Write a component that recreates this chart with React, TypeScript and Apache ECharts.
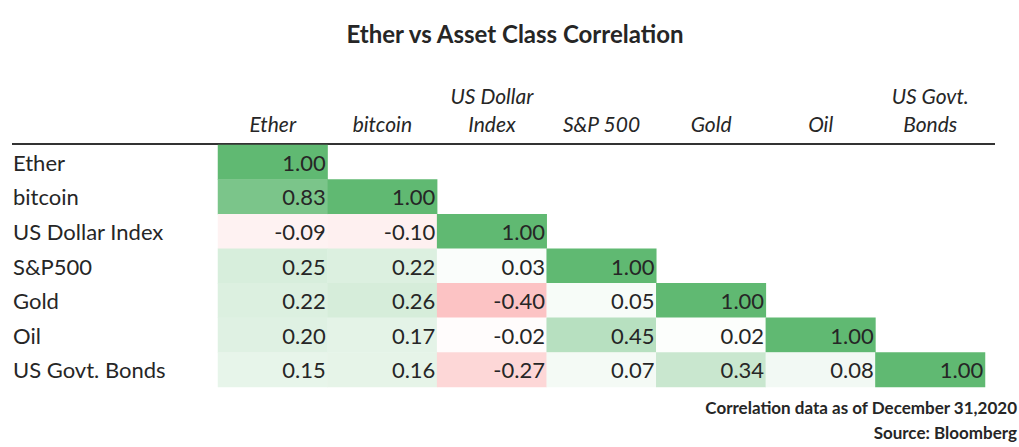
import React, { useEffect, useRef } from "react";
import * as echarts from "echarts";

const columns = ["Ether", "bitcoin", "US Dollar\nIndex", "S&P 500", "Gold", "Oil", "US Govt.\nBonds"];
const rows = ["Ether", "bitcoin", "US Dollar Index", "S&P500", "Gold", "Oil", "US Govt. Bonds"];

const rowEther = [1.0];
const rowBitcoin = [0.83, 1.0];
const rowDollar = [-0.09, -0.1, 1.0];
const rowSP = [0.25, 0.22, 0.03, 1.0];
const rowGold = [0.22, 0.26, -0.4, 0.05, 1.0];
const rowOil = [0.2, 0.17, -0.02, 0.45, 0.02, 1.0];
const rowBonds = [0.15, 0.16, -0.27, 0.07, 0.34, 0.08, 1.0];

const matrix = [rowEther, rowBitcoin, rowDollar, rowSP, rowGold, rowOil, rowBonds];

const title = "Ether vs Asset Class Correlation";
const note1 = "Correlation data as of December 31,2020";
const note2 = "Source: Bloomberg";

const FONT = "Lato, 'Open Sans', sans-serif";
const TEXT = "#262626";

export default function App() {
  const ref = useRef<HTMLDivElement>(null);
  useEffect(() => {
    if (!ref.current) return;
    const chart = echarts.init(ref.current, null, { renderer: "svg" });
    const data: [number, number, number][] = [];
    matrix.forEach((r, y) => r.forEach((v, x) => data.push([x, y, v])));
    chart.setOption({
      animation: false,
      backgroundColor: "#ffffff",
      textStyle: { fontFamily: FONT },
      title: {
        text: title,
        left: 510,
        textAlign: "center",
        top: 16,
        textStyle: { fontFamily: FONT, fontSize: 24, fontWeight: "bold", color: TEXT },
      },
      grid: { left: 218, right: 34, top: 145, bottom: 60 },
      xAxis: {
        type: "category",
        data: columns,
        position: "top",
        axisLine: { show: false },
        axisTick: { show: false },
        splitLine: { show: false },
        axisLabel: {
          interval: 0,
          margin: 8,
          fontFamily: FONT,
          fontSize: 21,
          fontStyle: "italic",
          color: TEXT,
          lineHeight: 28,
        },
      },
      yAxis: {
        type: "category",
        data: rows,
        inverse: true,
        axisLine: { show: false },
        axisTick: { show: false },
        splitLine: { show: false },
        axisLabel: {
          interval: 0,
          align: "left",
          margin: 205,
          fontFamily: FONT,
          fontSize: 22,
          color: TEXT,
        },
      },
      visualMap: {
        show: false,
        type: "continuous",
        min: -1,
        max: 1,
        dimension: 2,
        inRange: { color: ["#F8696B", "#FFFFFF", "#60B972"] },
      },
      graphic: [
        {
          type: "line",
          shape: { x1: 12, y1: 144, x2: 995, y2: 144 },
          style: { stroke: "#333333", lineWidth: 2 },
        },
        {
          type: "text",
          right: 2,
          top: 399,
          style: { text: note1, font: `bold 17px ${FONT}`, fill: TEXT, textAlign: "right" },
        },
        {
          type: "text",
          right: 2,
          top: 424,
          style: { text: note2, font: `bold 17px ${FONT}`, fill: TEXT, textAlign: "right" },
        },
      ],
      series: [
        {
          type: "heatmap",
          data,
          label: {
            show: true,
            position: "insideRight",
            distance: 2,
            fontFamily: FONT,
            fontSize: 22,
            color: TEXT,
            formatter: (p: any) => p.value[2].toFixed(2),
          },
          itemStyle: { borderWidth: 0 },
          emphasis: { disabled: true },
        },
      ],
    });
    return () => chart.dispose();
  }, []);
  return (
    <div
      ref={ref}
      style={{ position: "fixed", left: 0, top: 0, width: 1019, height: 447 }}
    />
  );
}
